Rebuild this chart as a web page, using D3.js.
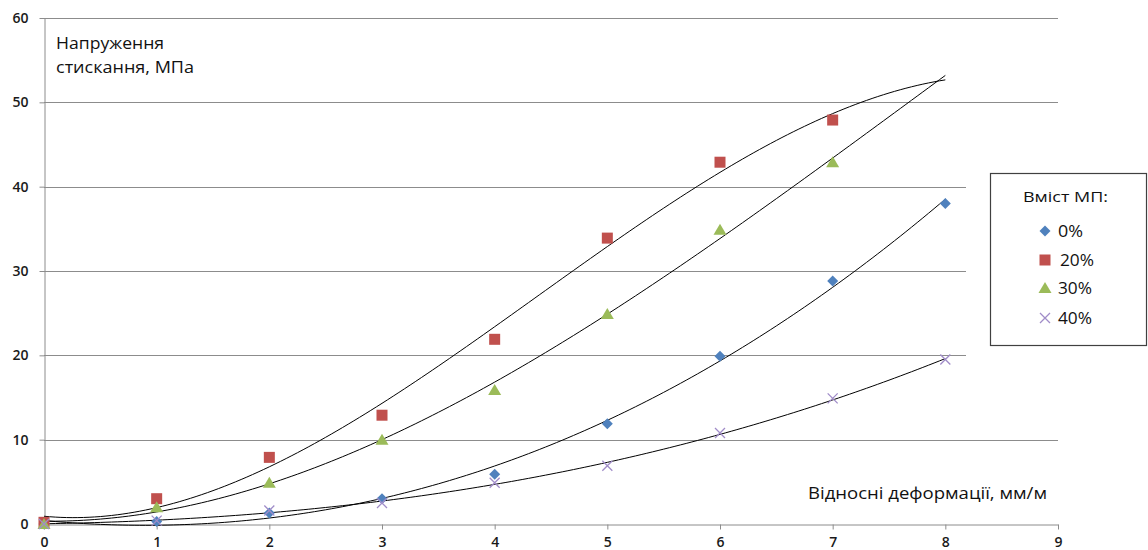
<!DOCTYPE html>
<html>
<head>
  <meta charset="utf-8">
  <style>
    body { margin: 0; background: white; }
    svg { display: block; }
    text { font-family: "Open Sans", "Noto Sans", sans-serif; fill: #111; }
    .grid line { stroke: #8c8c8c; stroke-width: 1; }
    .axis path, .axis line { stroke: #8c8c8c; }
    .axis text { font-size: 14px; font-weight: 600; fill: #1a1a1a; }
    .trend { fill: none; stroke: #000; stroke-width: 1; }
  </style>
</head>
<body>
  <div id="chart"></div>
  <script src="https://d3js.org/d3.v7.min.js"></script>
  <script>
    var width = 1148, height = 550;

    // Вміст МП, деформація 0..8 мм/м
    var xs = [0, 1, 2, 3, 4, 5, 6, 7, 8];
    var mp0  = [0, 0.3, 1.3, 3, 5.9, 11.9, 19.9, 28.8, 38];
    var mp20 = [0.2, 3, 7.9, 12.9, 21.9, 33.9, 42.9, 47.9];
    var mp30 = [0, 2, 4.9, 10, 15.9, 24.9, 34.9, 42.9];
    var mp40 = [0, 0.4, 1.6, 2.5, 4.9, 6.9, 10.8, 14.9, 19.5];
    var seriesNames = ["0%", "20%", "30%", "40%"];
    var xTicks = [0, 1, 2, 3, 4, 5, 6, 7, 8, 9];
    var yTicks = [0, 10, 20, 30, 40, 50, 60];

    var series = [
      {name: seriesNames[0], vals: mp0,  color: "#4f81bd", shape: "diamond", order: 3},
      {name: seriesNames[1], vals: mp20, color: "#c0504d", shape: "square", order: 3},
      {name: seriesNames[2], vals: mp30, color: "#9bbb59", shape: "triangle", order: 3},
      {name: seriesNames[3], vals: mp40, color: "#a08cc8", shape: "cross", order: 3}
    ];

    var x = d3.scaleLinear().domain([0, 9]).range([44, 1058]);
    var y = d3.scaleLinear().domain([0, 60]).range([524, 18]);

    var svg = d3.select("#chart").append("svg")
        .attr("width", width).attr("height", height);

    // gridlines
    svg.append("g").attr("class", "grid")
      .selectAll("line").data(yTicks.filter(d => d > 0))
      .enter().append("line")
        .attr("x1", x(0)).attr("x2", x(9))
        .attr("y1", d => Math.round(y(d)) + 0.5).attr("y2", d => Math.round(y(d)) + 0.5);

    // axes
    svg.append("g").attr("class", "axis")
        .attr("transform", "translate(0," + (Math.round(y(0)) + 0.5) + ")")
        .call(d3.axisBottom(x).tickValues(xTicks).tickSize(5).tickSizeOuter(0).tickPadding(8));
    svg.append("g").attr("class", "axis")
        .attr("transform", "translate(" + (Math.round(x(0)) + 0.5) + ",0)")
        .call(d3.axisLeft(y).tickValues(yTicks).tickSize(5).tickSizeOuter(0).tickPadding(11));

    // least squares polynomial fit (like the Excel trendline)
    function polyfit(px, py, n) {
      var m = n + 1, A = [], i, j, k;
      for (i = 0; i < m; i++) {
        A.push([]);
        for (j = 0; j < m; j++) A[i].push(d3.sum(px, v => Math.pow(v, i + j)));
        A[i].push(d3.sum(px, (v, t) => Math.pow(v, i) * py[t]));
      }
      for (i = 0; i < m; i++) {
        var p = i;
        for (k = i + 1; k < m; k++) if (Math.abs(A[k][i]) > Math.abs(A[p][i])) p = k;
        var tmp = A[i]; A[i] = A[p]; A[p] = tmp;
        for (k = i + 1; k < m; k++) {
          var f = A[k][i] / A[i][i];
          for (j = i; j <= m; j++) A[k][j] -= f * A[i][j];
        }
      }
      var c = new Array(m).fill(0);
      for (i = m - 1; i >= 0; i--) {
        var s = A[i][m];
        for (j = i + 1; j < m; j++) s -= A[i][j] * c[j];
        c[i] = s / A[i][i];
      }
      return c;
    }

    var line = d3.line().x(d => x(d[0])).y(d => y(d[1]));
    var steps = d3.range(0, 8.0001, 0.05);

    series.forEach(s => {
      var px = xs.slice(0, s.vals.length);
      var c = polyfit(px, s.vals, s.order);
      var pts = steps.map(t => [t, d3.sum(c, (a, i) => a * Math.pow(t, i))]);
      svg.append("path").attr("class", "trend").attr("d", line(pts));
    });

    function marker(g, shape, color) {
      if (shape === "diamond") {
        g.append("path").attr("d", "M0,-5.5L5.5,0L0,5.5L-5.5,0Z").attr("fill", color);
      } else if (shape === "square") {
        g.append("rect").attr("x", -5.5).attr("y", -5.5).attr("width", 11).attr("height", 11).attr("fill", color);
      } else if (shape === "triangle") {
        g.append("path").attr("d", "M0,-6L6.5,5L-6.5,5Z").attr("fill", color);
      } else {
        g.append("path").attr("d", "M-5,-5L5,5M-5,5L5,-5").attr("stroke", color).attr("stroke-width", 1.3).attr("fill", "none");
      }
    }

    // markers
    series.forEach(s => {
      s.vals.forEach((v, i) => {
        var g = svg.append("g").attr("transform", "translate(" + x(xs[i]) + "," + y(v) + ")");
        marker(g, s.shape, s.color);
      });
    });

    function label(tx, ty, str, len, size) {
      return svg.append("text").attr("x", tx).attr("y", ty).attr("font-size", size || 16)
          .attr("textLength", len).attr("lengthAdjust", "spacingAndGlyphs").text(str);
    }

    // axis titles
    label(56, 49, "Напруження", 108);
    label(56, 73, "стискання, МПа", 138);
    label(808, 499, "Відносні деформації, мм/м", 239);

    // legend
    svg.append("rect").attr("x", 966).attr("y", 165).attr("width", 182).attr("height", 197).attr("fill", "white");
    svg.append("rect").attr("x", 990.5).attr("y", 173.5).attr("width", 156).attr("height", 172)
        .attr("fill", "white").attr("stroke", "#404040").attr("stroke-width", 1.2);
    label(1023, 202, "Вміст МП:", 85, 15);
    var legY = [231, 260, 288, 318];
    var legLen = [25, 34, 34, 34];
    series.forEach((s, i) => {
      var g = svg.append("g").attr("transform", "translate(1045," + legY[i] + ")");
      marker(g, s.shape, s.color);
      label(i === 1 ? 1060 : 1058, legY[i] + 6, s.name, legLen[i]);
    });
  </script>
</body>
</html>
